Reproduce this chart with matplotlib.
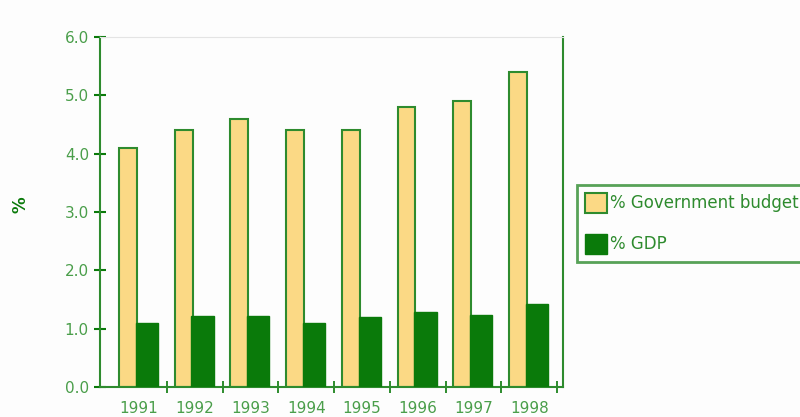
import matplotlib
matplotlib.use("Agg")
import matplotlib.pyplot as plt
import numpy as np

years = ["1991", "1992", "1993", "1994", "1995", "1996", "1997", "1998"]
gov_budget = [4.1, 4.4, 4.6, 4.4, 4.4, 4.8, 4.9, 5.4]
gdp = [1.1, 1.22, 1.22, 1.1, 1.2, 1.28, 1.24, 1.42]
yticks = [0.0, 1.0, 2.0, 3.0, 4.0, 5.0, 6.0]

dark_green = "#0a7a0a"
edge_green = "#2e8b2e"
label_green = "#4a9e4a"
yellow = "#fbd985"

fig = plt.figure(figsize=(8, 4.17), dpi=100, facecolor="#fdfdfd")
ax = fig.add_axes([0.125, 0.072, 0.579, 0.839])
ax.set_facecolor("#fdfdfd")

x = np.arange(len(years))
ax.bar(x - 0.36, gov_budget, width=0.32, align="edge", color=yellow,
       edgecolor=edge_green, linewidth=1.5, label="% Government budget", zorder=2)
ax.bar(x - 0.06, gdp, width=0.40, align="edge", color=dark_green,
       edgecolor=dark_green, linewidth=1.0, label="% GDP", zorder=3)

ax.set_xlim(-0.70, 7.61)
ax.set_ylim(0, 6)
ax.set_yticks(yticks)
ax.set_yticklabels([f"{v:.1f}" for v in yticks])
ax.set_xticks(x)
ax.set_xticklabels(years)
ax.set_xticks(np.arange(len(years)) + 0.5, minor=True)

for s in ["left", "right", "bottom"]:
    ax.spines[s].set_color(edge_green)
    ax.spines[s].set_linewidth(1.5)
ax.spines["top"].set_color("#e4e4e4")
ax.spines["top"].set_linewidth(0.8)

ax.tick_params(axis="y", direction="inout", length=8, width=1.5, color=dark_green,
               labelcolor=label_green, labelsize=11, pad=4)
ax.tick_params(axis="x", which="major", length=0, labelcolor=label_green, labelsize=11, pad=10)
ax.tick_params(axis="x", which="minor", direction="inout", length=8, width=1.2, color=dark_green)

fig.text(0.025, 0.51, "%", rotation=90, color=dark_green, fontsize=12,
         ha="center", va="center", fontweight="bold")

leg = fig.legend(loc="upper left", bbox_to_anchor=(577 / 800, 1 - 185 / 417),
                 frameon=True, fancybox=False, fontsize=12, labelcolor=edge_green,
                 handlelength=1.3, handleheight=1.4, labelspacing=1.3,
                 borderpad=0.5, handletextpad=0.2, borderaxespad=0)
leg.get_frame().set_edgecolor(edge_green)
leg.get_frame().set_linewidth(2)
leg.get_frame().set_facecolor("#fdfdfd")

fig.savefig("out.png", dpi=100, facecolor=fig.get_facecolor())
